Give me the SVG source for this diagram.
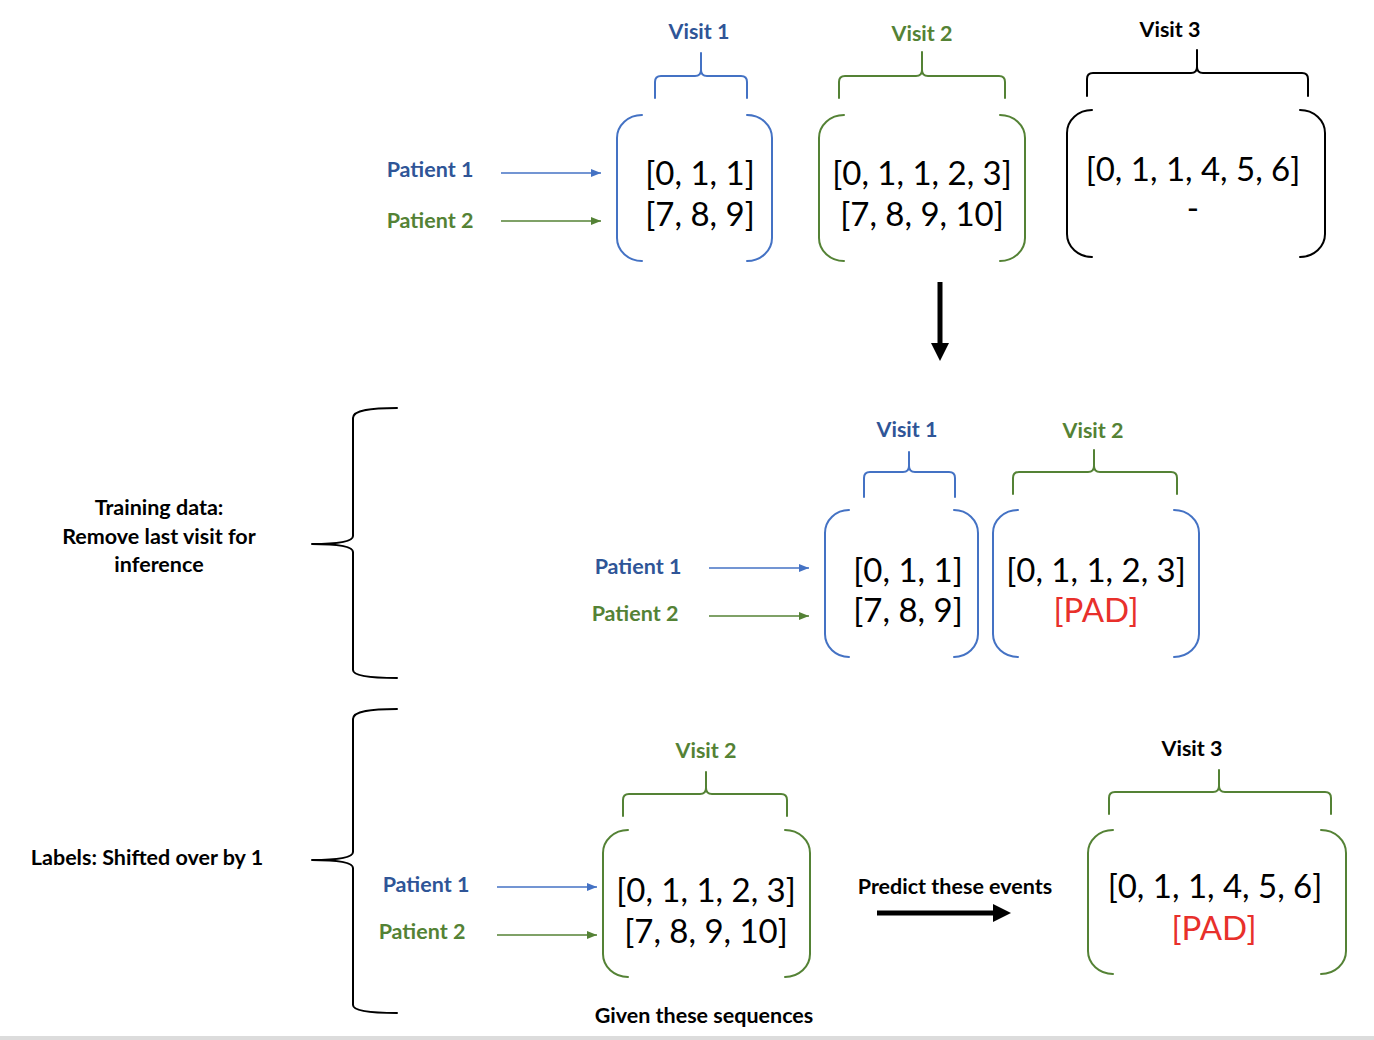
<svg xmlns="http://www.w3.org/2000/svg" width="1374" height="1040" viewBox="0 0 1374 1040">
  <style>
    .lbl { font-family: Lato, "Open Sans", "Liberation Sans", sans-serif; font-weight: bold; font-size: 21.5px; text-anchor: middle; }
    .seq { font-family: Lato, "Open Sans", "Liberation Sans", sans-serif; font-size: 33px; text-anchor: middle; fill: #000; }
    .blueT { fill: #2F5597; }
    .greenT { fill: #548235; }
    .blackT { fill: #000; }
    .pad { fill: #E8302B; }
    .brk { fill: none; stroke-width: 2; stroke-linecap: round; stroke-linejoin: round; }
    .blueL { stroke: #4472C4; }
    .greenL { stroke: #548235; }
    .blackL { stroke: #000; }
    .thin { fill: none; stroke-width: 1.6; }
  </style>
  <defs>
    <marker id="headBlue" markerUnits="userSpaceOnUse" markerWidth="11" markerHeight="10" refX="10" refY="5" orient="auto">
      <path d="M0,1 L10,5 L0,9 z" fill="#4472C4"/>
    </marker>
    <marker id="headGreen" markerUnits="userSpaceOnUse" markerWidth="11" markerHeight="10" refX="10" refY="5" orient="auto">
      <path d="M0,1 L10,5 L0,9 z" fill="#548235"/>
    </marker>
    <marker id="headBig" markerUnits="userSpaceOnUse" markerWidth="19" markerHeight="20" refX="0" refY="10" orient="auto">
      <path d="M0,1 L18,10 L0,19 z" fill="#000"/>
    </marker>
  </defs>

  <rect x="0" y="0" width="1374" height="1040" fill="#fff"/>
  <rect x="0" y="1036" width="1374" height="4" fill="#dcdcdc"/>

  <!-- ===== Full sequences ===== -->
  <g id="top-patient1"><text class="lbl blueT" x="430" y="177">Patient 1</text></g>
  <g id="top-patient2"><text class="lbl greenT" x="430" y="228">Patient 2</text></g>

  <g id="top-visit1">
    <text class="lbl blueT" x="699" y="39">Visit 1</text>
    <path class="brk blueL" d="M655,98 V82 Q655,76 661,76 H695 Q701,76 701,70 V53 V70 Q701,76 707,76 H741 Q747,76 747,82 V98"/>
    <path class="brk blueL" d="M642,115 A25,23 0 0 0 617,138 V238 A25,23 0 0 0 642,261"/>
    <path class="brk blueL" d="M747,115 A25,23 0 0 1 772,138 V238 A25,23 0 0 1 747,261"/>
    <text class="seq" x="700" y="185">[0, 1, 1]</text>
    <text class="seq" x="700" y="226">[7, 8, 9]</text>
  </g>

  <g id="top-visit2">
    <text class="lbl greenT" x="922" y="41">Visit 2</text>
    <path class="brk greenL" d="M839,98 V82 Q839,76 845,76 H916 Q922,76 922,70 V52 V70 Q922,76 928,76 H999 Q1005,76 1005,82 V98"/>
    <path class="brk greenL" d="M844,115 A25,23 0 0 0 819,138 V238 A25,23 0 0 0 844,261"/>
    <path class="brk greenL" d="M1000,115 A25,23 0 0 1 1025,138 V238 A25,23 0 0 1 1000,261"/>
    <text class="seq" x="922" y="185">[0, 1, 1, 2, 3]</text>
    <text class="seq" x="922" y="226">[7, 8, 9, 10]</text>
  </g>

  <g id="top-visit3">
    <text class="lbl blackT" x="1170" y="37">Visit 3</text>
    <path class="brk blackL" d="M1087,96 V79 Q1087,73 1093,73 H1191 Q1197,73 1197,67 V50 V67 Q1197,73 1203,73 H1302 Q1308,73 1308,79 V96"/>
    <path class="brk blackL" d="M1092,110 A25,23 0 0 0 1067,133 V234 A25,23 0 0 0 1092,257"/>
    <path class="brk blackL" d="M1300,110 A25,23 0 0 1 1325,133 V234 A25,23 0 0 1 1300,257"/>
    <text class="seq" x="1193" y="181">[0, 1, 1, 4, 5, 6]</text>
    <text class="seq" x="1193" y="220">-</text>
  </g>

  <!-- ===== Training data ===== -->
  <g id="train-brace">
    <path class="brk blackL" d="M397,408 C372,408 353,410 353,418 V536 C353,542 336,544 312,544 C336,544 353,546 353,552 V670 C353,676 372,678 397,678"/>
    <text class="lbl blackT" x="159" y="515">Training data:</text>
    <text class="lbl blackT" x="159" y="544">Remove last visit for</text>
    <text class="lbl blackT" x="159" y="572">inference</text>
  </g>

  <g id="train-patient1"><text class="lbl blueT" x="638" y="574">Patient 1</text></g>
  <g id="train-patient2"><text class="lbl greenT" x="635" y="621">Patient 2</text></g>

  <g id="train-visit1">
    <text class="lbl blueT" x="907" y="437">Visit 1</text>
    <path class="brk blueL" d="M864,497 V478 Q864,472 870,472 H903 Q909,472 909,466 V452 V466 Q909,472 915,472 H949 Q955,472 955,478 V497"/>
    <path class="brk blueL" d="M849,510 A24,23 0 0 0 825,533 V634 A24,23 0 0 0 849,657"/>
    <path class="brk blueL" d="M954,510 A24,23 0 0 1 978,533 V634 A24,23 0 0 1 954,657"/>
    <text class="seq" x="908" y="582">[0, 1, 1]</text>
    <text class="seq" x="908" y="622">[7, 8, 9]</text>
  </g>

  <g id="train-visit2">
    <text class="lbl greenT" x="1093" y="438">Visit 2</text>
    <path class="brk greenL" d="M1013,494 V478 Q1013,472 1019,472 H1088 Q1094,472 1094,466 V450 V466 Q1094,472 1100,472 H1171 Q1177,472 1177,478 V494"/>
    <path class="brk blueL" d="M1018,510 A25,23 0 0 0 993,533 V634 A25,23 0 0 0 1018,657"/>
    <path class="brk blueL" d="M1174,510 A25,23 0 0 1 1199,533 V634 A25,23 0 0 1 1174,657"/>
    <text class="seq" x="1096" y="582">[0, 1, 1, 2, 3]</text>
    <text class="seq pad" x="1096" y="622">[PAD]</text>
  </g>

  <!-- ===== Labels ===== -->
  <g id="label-brace">
    <path class="brk blackL" d="M397,709 C372,709 353,711 353,719 V852 C353,858 336,860 312,860 C336,860 353,862 353,868 V1005 C353,1011 372,1013 397,1013"/>
    <text class="lbl blackT" x="147" y="865">Labels: Shifted over by 1</text>
  </g>

  <g id="label-patient1"><text class="lbl blueT" x="426" y="892">Patient 1</text></g>
  <g id="label-patient2"><text class="lbl greenT" x="422" y="939">Patient 2</text></g>

  <g id="label-visit2">
    <text class="lbl greenT" x="706" y="758">Visit 2</text>
    <path class="brk greenL" d="M623,816 V800 Q623,794 629,794 H700 Q706,794 706,788 V772 V788 Q706,794 712,794 H781 Q787,794 787,800 V816"/>
    <path class="brk greenL" d="M628,830 A25,23 0 0 0 603,853 V954 A25,23 0 0 0 628,977"/>
    <path class="brk greenL" d="M785,830 A25,23 0 0 1 810,853 V954 A25,23 0 0 1 785,977"/>
    <text class="seq" x="706" y="902">[0, 1, 1, 2, 3]</text>
    <text class="seq" x="706" y="943">[7, 8, 9, 10]</text>
    <text class="lbl blackT" x="704" y="1023">Given these sequences</text>
  </g>

  <g id="predict">
    <text class="lbl blackT" x="955" y="894">Predict these events</text>
  </g>

  <g id="label-visit3">
    <text class="lbl blackT" x="1192" y="756">Visit 3</text>
    <path class="brk greenL" d="M1109,814 V798 Q1109,792 1115,792 H1213 Q1219,792 1219,786 V770 V786 Q1219,792 1225,792 H1325 Q1331,792 1331,798 V814"/>
    <path class="brk greenL" d="M1113,830 A25,23 0 0 0 1088,853 V951 A25,23 0 0 0 1113,974"/>
    <path class="brk greenL" d="M1321,830 A25,23 0 0 1 1346,853 V951 A25,23 0 0 1 1321,974"/>
    <text class="seq" x="1215" y="898">[0, 1, 1, 4, 5, 6]</text>
    <text class="seq pad" x="1214" y="940">[PAD]</text>
  </g>

  <!-- ===== Connectors ===== -->
  <g id="connectors">
    <line class="thin" stroke="#4472C4" x1="501" y1="173" x2="601" y2="173" marker-end="url(#headBlue)"/>
    <line class="thin" stroke="#548235" x1="501" y1="221" x2="601" y2="221" marker-end="url(#headGreen)"/>
    <line x1="940" y1="282" x2="940" y2="343" stroke="#000" stroke-width="5" marker-end="url(#headBig)"/>
    <line class="thin" stroke="#4472C4" x1="709" y1="568" x2="809" y2="568" marker-end="url(#headBlue)"/>
    <line class="thin" stroke="#548235" x1="709" y1="616" x2="809" y2="616" marker-end="url(#headGreen)"/>
    <line class="thin" stroke="#4472C4" x1="497" y1="887" x2="597" y2="887" marker-end="url(#headBlue)"/>
    <line class="thin" stroke="#548235" x1="497" y1="935" x2="597" y2="935" marker-end="url(#headGreen)"/>
    <line x1="877" y1="913" x2="993" y2="913" stroke="#000" stroke-width="5" marker-end="url(#headBig)"/>
  </g>
</svg>
